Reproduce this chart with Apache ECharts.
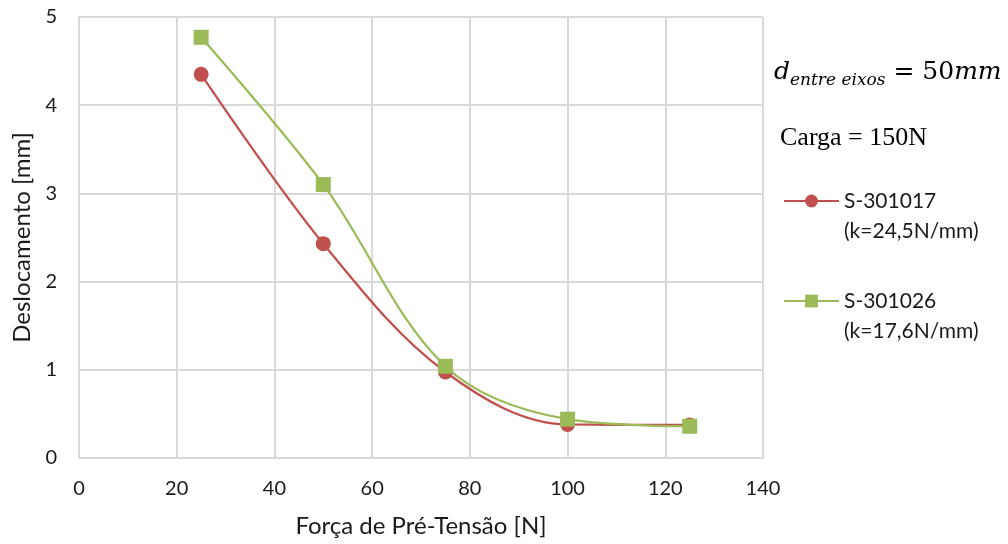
<!DOCTYPE html>
<html><head><meta charset="utf-8">
<script src="https://cdn.jsdelivr.net/npm/echarts@6/dist/echarts.min.js"></script>
<style>html,body{margin:0;padding:0;background:#fff}#c{width:1008px;height:544px}</style>
</head><body><div id="c"></div>
<script>
const xValues = [25, 50, 75, 100, 125];
const s1Name = 'S-301017\n(k=24,5N/mm)';
const s1Values = [4.35, 2.43, 0.975, 0.38, 0.375];
const s2Name = 'S-301026\n(k=17,6N/mm)';
const s2Values = [4.77, 3.10, 1.04, 0.44, 0.36];
const xTitle = 'Força de Pré-Tensão [N]';
const yTitle = 'Deslocamento [mm]';

const chart = echarts.init(document.getElementById('c'));
const font = 'Lato';
const gridColor = '#d9d9d9';
chart.setOption({
  animation: false,
  backgroundColor: '#fff',
  grid: { left: 79, right: 245, top: 17, bottom: 86 },
  xAxis: {
    type: 'value', min: 0, max: 140, interval: 20,
    name: xTitle, nameLocation: 'middle', nameGap: 56,
    nameTextStyle: { fontFamily: font, fontSize: 24, color: '#1a1a1a' },
    axisLine: { lineStyle: { color: gridColor, width: 2 } },
    axisTick: { show: false },
    axisLabel: { fontFamily: font, fontSize: 20, color: '#1a1a1a', margin: 21 },
    splitLine: { lineStyle: { color: gridColor, width: 2 } }
  },
  yAxis: {
    type: 'value', min: 0, max: 5, interval: 1,
    name: yTitle, nameLocation: 'middle', nameGap: 44,
    nameTextStyle: { fontFamily: font, fontSize: 24, color: '#1a1a1a' },
    axisLine: { show: true, lineStyle: { color: gridColor, width: 2 } },
    axisTick: { show: false },
    axisLabel: { fontFamily: font, fontSize: 20, color: '#1a1a1a', margin: 22 },
    splitLine: { lineStyle: { color: gridColor, width: 2 } }
  },
  legend: {
    orient: 'vertical', left: 778, top: 151, itemGap: 10,
    itemWidth: 55, itemHeight: 16,
    formatter: name => ' \n' + name,
    textStyle: { fontFamily: font, fontSize: 21, color: '#1a1a1a', lineHeight: 30 },
    data: [s1Name, s2Name]
  },
  graphic: [
    { type: 'text', left: 774, top: 60, style: {
      text: '{d|d}{sub|entre eixos}{eq| = 50}{d|mm}',
      rich: {
        d: { fontFamily: 'DejaVu Serif', fontStyle: 'italic', fontSize: 25, fill: '#000' },
        sub: { fontFamily: 'DejaVu Serif', fontStyle: 'italic', fontSize: 17, fill: '#000', padding: [17, 0, 0, 0] },
        eq: { fontFamily: 'DejaVu Serif', fontSize: 25, fill: '#000' }
      } } },
    { type: 'text', left: 780, top: 125, style: {
      text: 'Carga = 150N', fontFamily: 'Liberation Serif', fontSize: 26, fill: '#000' } }
  ],
  series: [
    { name: s1Name, type: 'line', smooth: 0.35,
      data: xValues.map((x, i) => [x, s1Values[i]]),
      symbol: 'circle', symbolSize: 15,
      lineStyle: { color: '#c0504d', width: 2.25 },
      itemStyle: { color: '#c0504d' } },
    { name: s2Name, type: 'line', smooth: 0.35,
      data: xValues.map((x, i) => [x, s2Values[i]]),
      symbol: 'rect', symbolSize: 15,
      lineStyle: { color: '#9bbb59', width: 2.25 },
      itemStyle: { color: '#9bbb59' } }
  ]
});
</script></body></html>
